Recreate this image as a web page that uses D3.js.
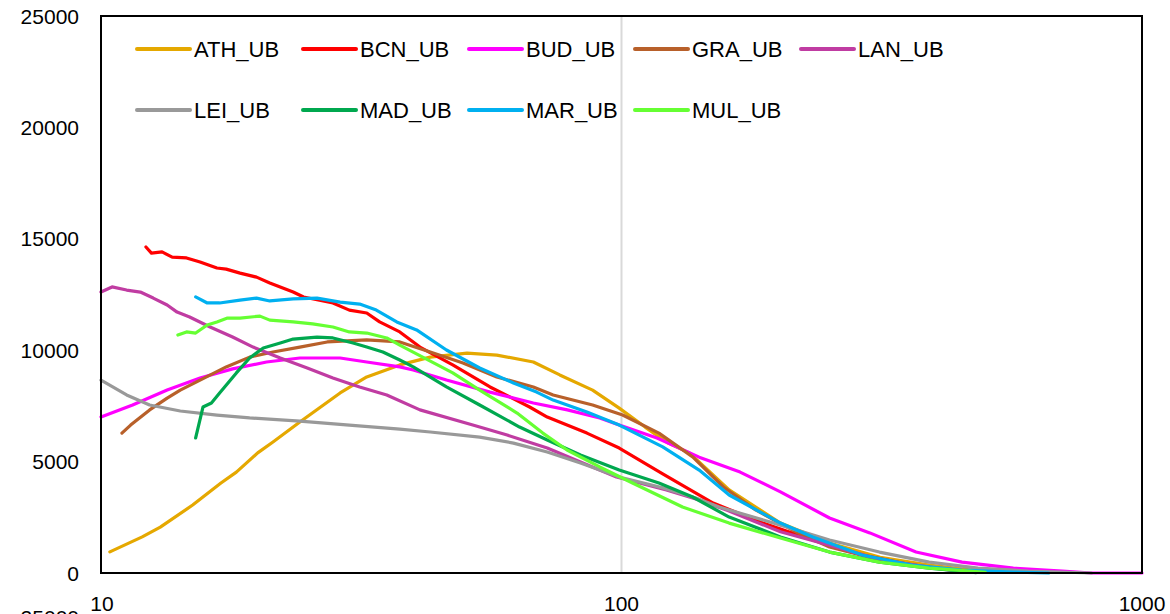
<!DOCTYPE html>
<html>
<head>
<meta charset="utf-8">
<script src="https://cdn.jsdelivr.net/npm/d3@7/dist/d3.min.js"></script>
<style>
  html, body { margin: 0; padding: 0; background: #ffffff; }
  svg { display: block; }
  text { font-family: "Liberation Sans", Arial, sans-serif; fill: #000; }
</style>
</head>
<body>
<svg id="chart" width="1170" height="614"></svg>
<script>
// ---- Data (x = size on log axis, y = value) ----
const seriesNames = ["ATH_UB","BCN_UB","BUD_UB","GRA_UB","LAN_UB","LEI_UB","MAD_UB","MAR_UB","MUL_UB"];
const seriesColors = ["#E5A800","#FF0000","#FF00FF","#B8602A","#C03CA2","#999999","#00A84F","#00B0F0","#66FF33"];

const ATH_x = [10.4,12,13,15,17,18.2,20,21.4,24.1,28.8,32.4,37.5,42.9,50.5,57.6,67.7,76.1,88,99,111,123,135,161,202,251,314,390,484,500];
const ATH_y = [950,1620,2060,3050,4040,4530,5390,5880,6780,8080,8800,9340,9690,9870,9780,9470,8890,8210,7400,6550,5830,5390,3730,2240,1350,700,350,100,60];

const BCN_x = [12.2,12.5,13.1,13.7,14.6,15.5,16.7,17.4,18.5,19.9,21.1,23.4,24.5,27.9,30,32.4,34.3,37.5,41,47.4,55.9,66.6,72,85.8,99,120,150,187,233,290,362,445,480];
const BCN_y = [14630,14360,14410,14180,14140,13960,13690,13640,13460,13280,13020,12610,12390,12120,11800,11670,11270,10820,10140,9340,8350,7450,7000,6280,5610,4450,3140,2240,1480,810,360,90,30];

const BUD_x = [10,11.5,13.4,15.5,17.9,20.8,24.1,28.8,32.4,37.5,39.8,46.1,55.9,67.7,78.7,90.8,99,117,141,169,202,251,300,368,451,566,703,800,1000];
const BUD_y = [7000,7540,8210,8750,9160,9470,9650,9650,9470,9250,9110,8660,8120,7630,7320,6960,6640,6060,5200,4530,3640,2470,1800,940,490,220,90,0,0];

const GRA_x = [10.97,11.4,12.4,13.4,14.2,15.5,17.4,19.3,21.4,24.1,27.2,32.4,37.5,42.9,49.6,57.6,67.7,73.9,88,100.5,118,137,157,181,218,251,315,390,475];
const GRA_y = [6280,6640,7320,7850,8210,8660,9250,9690,9920,10140,10370,10460,10370,9920,9430,8800,8350,7990,7540,7090,6280,5210,3860,2830,1800,1170,580,270,45];

const LAN_x = [10,10.5,11.2,11.9,12.6,13.4,14,14.8,16.2,17.9,19.6,22.1,24.9,27.9,31.4,35.4,41,51.8,60.3,72,83.4,97.8,122,141,160,202,251,313,390,450];
const LAN_y = [12610,12840,12700,12610,12340,12030,11710,11490,11040,10590,10140,9650,9200,8750,8350,7990,7320,6640,6190,5610,4980,4310,3730,3280,2800,1850,1250,600,250,60];

const LEI_x = [10,11.2,12.4,14.2,16.7,19.3,24.1,30,37.5,42.9,53.4,62,72,83.4,99,120,139,154,202,251,313,390,484,604,800];
const LEI_y = [8660,7990,7540,7270,7090,6960,6820,6640,6460,6330,6100,5830,5430,4940,4310,3820,3370,2960,2150,1480,940,490,220,90,0];

const MAD_x = [15.2,15.7,16.3,16.9,18.2,19.3,20.5,22.1,23.4,26,27.9,30.5,32.4,34.8,37.5,39.8,46.1,53.4,63.7,72,83.4,99,118,137,161,202,251,313,390,467,480];
const MAD_y = [6060,7450,7630,8080,8980,9650,10100,10320,10500,10590,10550,10320,10140,9920,9560,9250,8350,7540,6550,5970,5300,4620,4040,3410,2510,1620,940,490,220,45,20];

const MAR_x = [15.2,16,16.9,18.5,19.9,21.1,23.4,26,28.8,31.4,33.8,37,40.4,46.1,53.4,62,68.7,73.9,85.8,99,120,141,161,202,233,290,362,451,566,662];
const MAR_y = [12390,12120,12120,12250,12340,12210,12300,12340,12160,12070,11800,11270,10910,10010,9200,8530,8120,7760,7230,6640,5660,4620,3500,2240,1620,810,360,135,45,0];

const MUL_x = [14.05,14.6,15.2,16,16.7,17.5,18.5,20.2,21.1,23.4,25.5,27.9,30,32.4,35.4,37.5,41.5,47.4,53.4,63,70.6,78.6,90.8,105,131,161,202,251,313,390,494,500];
const MUL_y = [10680,10820,10770,11130,11270,11440,11440,11530,11350,11270,11180,11040,10820,10770,10550,10230,9690,8980,8210,7180,6280,5520,4760,4040,2960,2240,1570,940,490,220,45,30];

const xTicks = [10, 100, 1000];
const yTicks = [0, 5000, 10000, 15000, 20000, 25000];

const seriesX = [ATH_x, BCN_x, BUD_x, GRA_x, LAN_x, LEI_x, MAD_x, MAR_x, MUL_x];
const seriesY = [ATH_y, BCN_y, BUD_y, GRA_y, LAN_y, LEI_y, MAD_y, MAR_y, MUL_y];

// ---- Layout ----
const svg = d3.select("#chart");
const L = 101, R = 1142, T = 16, B = 573;

const x = d3.scaleLog().domain([10, 1000]).range([L, R]);
const y = d3.scaleLinear().domain([0, 25000]).range([B, T]);

// vertical gridlines
svg.append("g").selectAll("line")
  .data(xTicks.filter(d => d > 10 && d < 1000))
  .join("line")
  .attr("x1", d => x(d)).attr("x2", d => x(d))
  .attr("y1", T).attr("y2", B)
  .attr("stroke", "#D9D9D9").attr("stroke-width", 2);

// series
const line = d3.line().x(d => x(d[0])).y(d => y(d[1]));
const data = seriesNames.map((n, i) => ({
  name: n, color: seriesColors[i],
  pts: seriesX[i].map((v, j) => [v, seriesY[i][j]])
}));

svg.append("g").selectAll("path")
  .data(data)
  .join("path")
  .attr("d", d => line(d.pts))
  .attr("fill", "none")
  .attr("stroke", d => d.color)
  .attr("stroke-width", 3.2)
  .attr("stroke-linejoin", "round")
  .attr("stroke-linecap", "round");

// frame
svg.append("rect")
  .attr("x", L).attr("y", T).attr("width", R - L).attr("height", B - T)
  .attr("fill", "none").attr("stroke", "#000").attr("stroke-width", 2);

// y labels
svg.append("g").selectAll("text")
  .data(yTicks)
  .join("text")
  .attr("x", 79).attr("y", d => y(d))
  .attr("text-anchor", "end")
  .attr("dominant-baseline", "central")
  .attr("font-size", 21)
  .text(d => d);

// stray label below the axis (as in the reference)
svg.append("text")
  .attr("x", 79).attr("y", 617)
  .attr("text-anchor", "end").attr("dominant-baseline", "central")
  .attr("font-size", 21)
  .text(yTicks[yTicks.length - 1]);

// x labels
svg.append("g").selectAll("text")
  .data(xTicks)
  .join("text")
  .attr("x", d => x(d) + (d === 10 ? 1 : 0)).attr("y", 603)
  .attr("text-anchor", "middle")
  .attr("dominant-baseline", "central")
  .attr("font-size", 21)
  .text(d => d);

// legend
const lg = svg.append("g").selectAll("g")
  .data(data)
  .join("g")
  .attr("transform", (d, i) => `translate(${137 + (i % 5) * 166},${i < 5 ? 49 : 110})`);
lg.append("line")
  .attr("x1", 0).attr("x2", 53).attr("y1", 0).attr("y2", 0)
  .attr("stroke", d => d.color).attr("stroke-width", 4).attr("stroke-linecap", "round");
lg.append("text")
  .attr("x", 57).attr("y", 0)
  .attr("dominant-baseline", "central")
  .attr("font-size", 22)
  .text(d => d.name);
</script>
</body>
</html>
